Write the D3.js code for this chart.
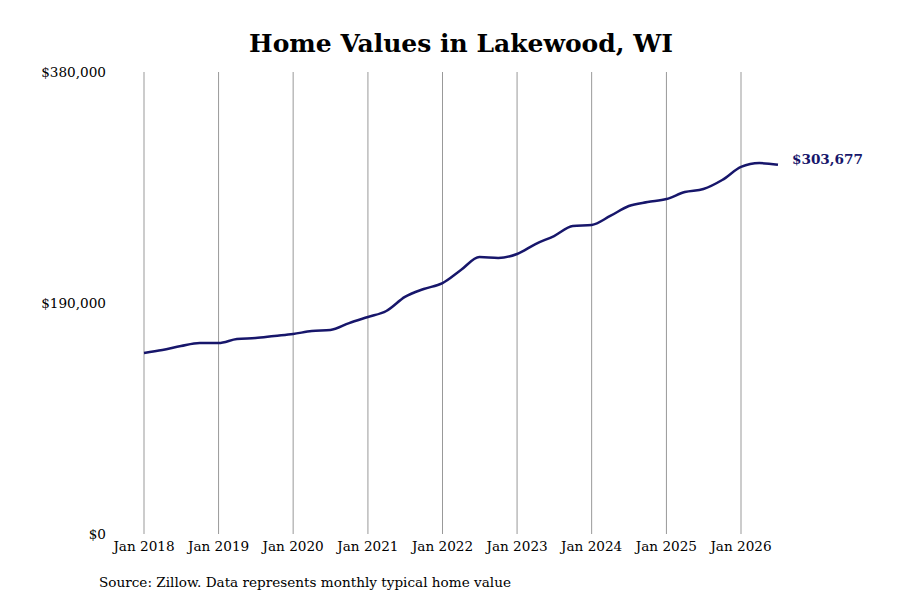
<!DOCTYPE html>
<html><head><meta charset="utf-8">
<script src="https://cdn.jsdelivr.net/npm/d3@7"></script>
<style>body{margin:0;background:#fff}</style></head>
<body><svg id="c" width="900" height="600"></svg>
<script>
const years = [2018,2019,2020,2021,2022,2023,2024,2025,2026];
const dates = ["2018-01","2018-04","2018-07","2018-10","2019-01","2019-04","2019-07","2019-10","2020-01","2020-04","2020-07","2020-10","2021-01","2021-04","2021-07","2021-10","2022-01","2022-04","2022-07","2022-10","2023-01","2023-04","2023-07","2023-10","2024-01","2024-04","2024-07","2024-10","2025-01","2025-04","2025-07","2025-10","2026-01","2026-04","2026-07"];
const values = [148900,151300,154600,157100,157100,160400,161200,162900,164500,167000,167800,173500,178500,183400,195000,201500,206400,217100,227800,227000,230300,238500,245100,253300,254200,261600,269800,273000,275500,281300,283800,291200,301900,305100,303677];
const yTicks = [0,190000,380000];
const lastLabel = "$303,677";

const svg = d3.select("#c");
const parse = d3.timeParse("%Y-%m");
const data = dates.map((d,i)=>({t:parse(d),v:values[i]}));
const x = d3.scaleTime().domain([new Date(2018,0,1),new Date(2026,0,1)]).range([144,741]);
const y = d3.scaleLinear().domain([0,380000]).range([534,72]);
const font = "DejaVu Serif, serif";

svg.append("text").attr("x",461).attr("y",52).attr("text-anchor","middle")
 .attr("font-family",font).attr("font-weight","bold").attr("font-size",25).text("Home Values in Lakewood, WI");

svg.selectAll(".g").data(years).enter().append("line")
 .attr("x1",d=>x(new Date(d,0,1))).attr("x2",d=>x(new Date(d,0,1)))
 .attr("y1",72).attr("y2",534).attr("stroke","#999").attr("stroke-width",1);

svg.selectAll(".xl").data(years).enter().append("text")
 .attr("x",d=>x(new Date(d,0,1))).attr("y",551).attr("text-anchor","middle")
 .attr("font-family",font).attr("font-size",13.6).text(d=>"Jan "+d);

svg.selectAll(".yl").data(yTicks).enter().append("text")
 .attr("x",106).attr("y",d=>y(d)+5).attr("text-anchor","end")
 .attr("font-family",font).attr("font-size",13.6).text(d=>d3.format("$,")(d));

const line = d3.line().x(d=>x(d.t)).y(d=>y(d.v)).curve(d3.curveMonotoneX);
svg.append("path").datum(data).attr("d",line).attr("fill","none")
 .attr("stroke","#17166b").attr("stroke-width",2.5);

const last = data[data.length-1];
svg.append("text").attr("x",x(last.t)+14).attr("y",y(last.v)-1)
 .attr("font-family",font).attr("font-weight","bold").attr("font-size",13.6)
 .attr("fill","#17166b").text(lastLabel);

svg.append("text").attr("x",99).attr("y",587).attr("font-family",font).attr("font-size",13.6)
 .text("Source: Zillow. Data represents monthly typical home value");
</script></body></html>
